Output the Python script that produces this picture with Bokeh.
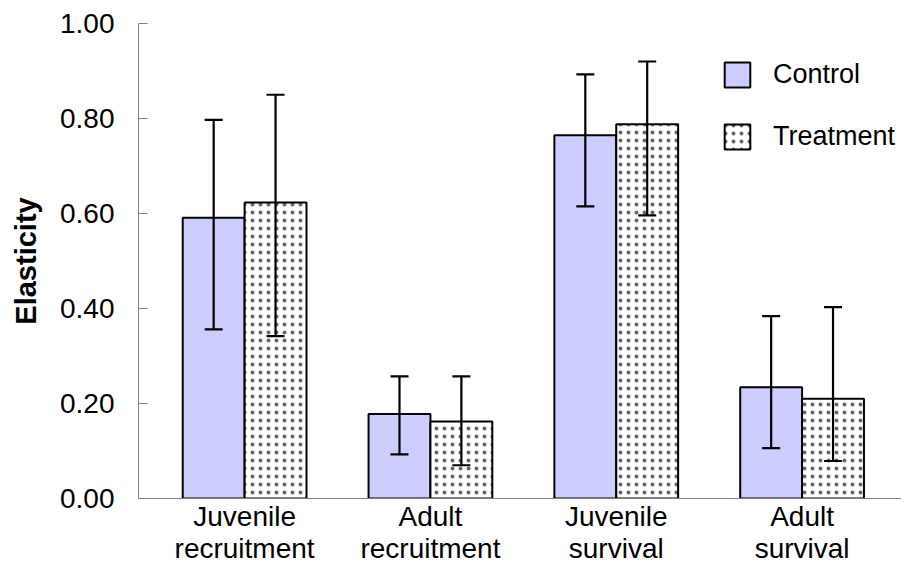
import numpy as np
from bokeh.plotting import figure
from bokeh.models import (ColumnDataSource, Range1d, FixedTicker, NumeralTickFormatter,
                          Whisker, TeeHead)
from bokeh.embed import file_html
from bokeh.resources import INLINE

# ---- data ----
categories = ["Juvenile\nrecruitment", "Adult\nrecruitment", "Juvenile\nsurvival", "Adult\nsurvival"]
control = [0.591, 0.178, 0.765, 0.234]
control_upper = [0.797, 0.257, 0.893, 0.384]
control_lower = [0.356, 0.093, 0.615, 0.106]
treatment = [0.623, 0.162, 0.788, 0.210]
treatment_upper = [0.850, 0.257, 0.920, 0.403]
treatment_lower = [0.342, 0.070, 0.596, 0.079]
y_ticks = [0.0, 0.2, 0.4, 0.6, 0.8, 1.0]

FONT = "Liberation Sans"
pos = np.arange(len(categories))
bw = 0.333

p = figure(width=901, height=567, output_backend="svg", toolbar_location=None,
           x_range=Range1d(-0.571, 3.535), y_range=Range1d(0, 1),
           min_border_left=138, min_border_right=0, min_border_top=23, min_border_bottom=60)
p.outline_line_color = None
p.xgrid.visible = False
p.ygrid.visible = False
p.background_fill_color = "white"

src_c = ColumnDataSource(dict(x=pos - bw / 2, top=control, up=control_upper, lo=control_lower))
src_t = ColumnDataSource(dict(x=pos + bw / 2, top=treatment, up=treatment_upper, lo=treatment_lower))

p.vbar(x="x", top="top", width=bw, source=src_c, fill_color="#CCCCFF",
       line_color="black", line_width=2, legend_label="Control")
p.vbar(x="x", top="top", width=bw, source=src_t, fill_color="white",
       hatch_pattern="dot", hatch_scale=8, hatch_weight=0.7, hatch_color="#666666",
       line_color="black", line_width=2, legend_label="Treatment")

for src in (src_c, src_t):
    w = Whisker(base="x", upper="up", lower="lo", source=src, dimension="height",
                line_color="black", line_width=2.2, level="overlay",
                upper_head=TeeHead(size=18, line_width=2.2, line_color="black"),
                lower_head=TeeHead(size=18, line_width=2.2, line_color="black"))
    p.add_layout(w)

# y axis
ya = p.yaxis[0]
ya.ticker = FixedTicker(ticks=y_ticks)
ya.formatter = NumeralTickFormatter(format="0.00")
ya.axis_line_color = "#808080"
ya.major_tick_line_color = "#808080"
ya.major_tick_in = 9
ya.major_tick_out = 0
ya.minor_tick_line_color = None
ya.major_label_text_font = FONT
ya.major_label_text_font_size = "28px"
ya.major_label_text_color = "black"
ya.major_label_standoff = 24
ya.axis_label = "Elasticity"
ya.axis_label_text_font = FONT
ya.axis_label_text_font_style = "bold"
ya.axis_label_text_font_size = "29px"
ya.axis_label_text_color = "black"
ya.axis_label_standoff = 15

# x axis
xa = p.xaxis[0]
xa.ticker = FixedTicker(ticks=list(pos))
xa.major_label_overrides = {int(i): c for i, c in zip(pos, categories)}
xa.axis_line_color = "#808080"
xa.major_tick_line_color = None
xa.major_tick_in = 0
xa.major_tick_out = 0
xa.minor_tick_line_color = None
xa.major_label_text_font = FONT
xa.major_label_text_font_size = "28px"
xa.major_label_text_line_height = 1.05
xa.major_label_text_color = "black"
xa.major_label_standoff = 2

# legend
lg = p.legend[0]
lg.location = (583, 346)
lg.border_line_color = None
lg.background_fill_alpha = 0
lg.padding = 0
lg.margin = 0
lg.spacing = 31
lg.glyph_width = 32
lg.glyph_height = 31
lg.label_height = 31
lg.label_standoff = 20
lg.label_text_font = FONT
lg.label_text_font_size = "27px"
lg.label_text_color = "black"

open("out.html", "w").write(file_html(p, INLINE))
